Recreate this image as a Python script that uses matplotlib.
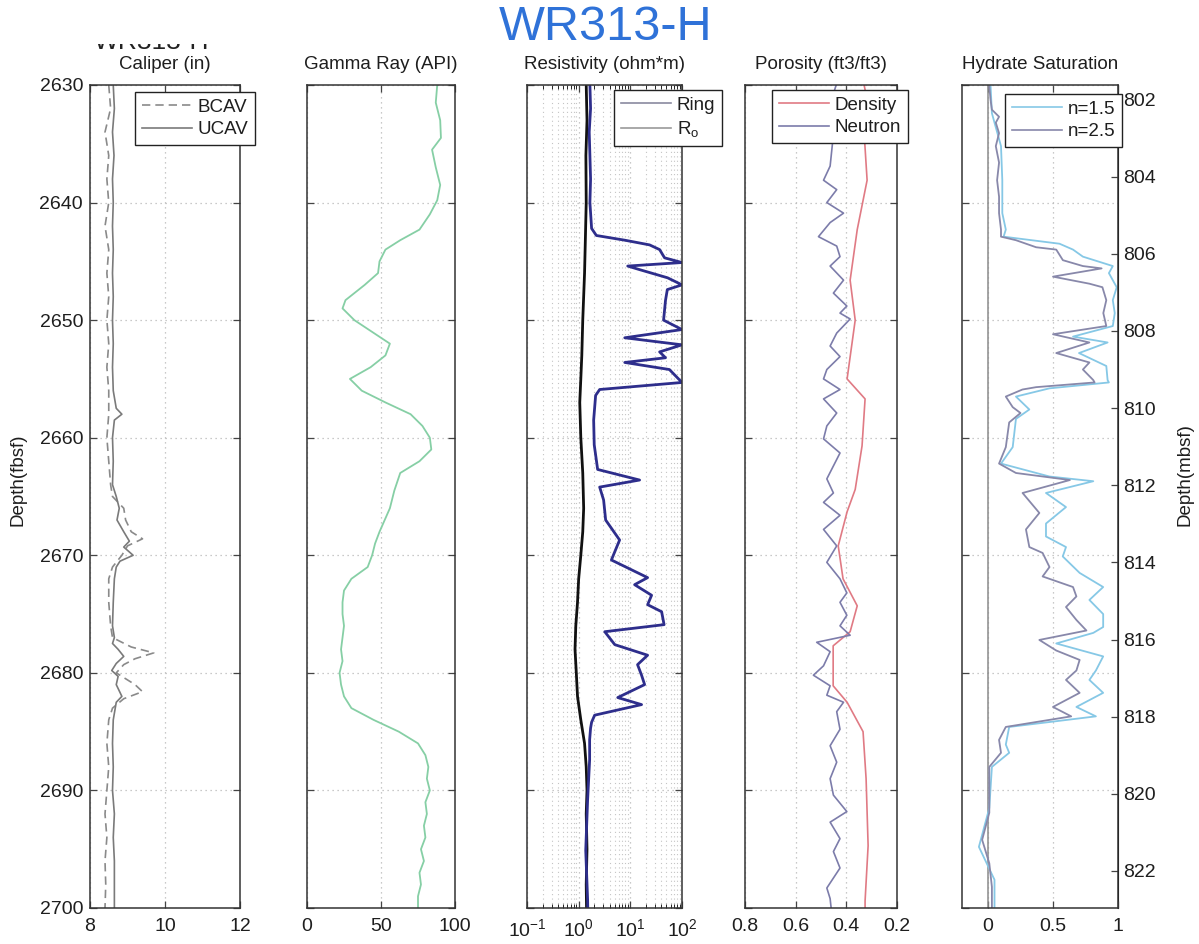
import numpy as np
import matplotlib
matplotlib.use("Agg")
import matplotlib.pyplot as plt
from matplotlib.lines import Line2D
from matplotlib.patches import Rectangle
from matplotlib.ticker import FixedLocator, LogLocator, NullFormatter

# ---------------- data (depth in ft below sea floor) ----------------
cal_u_depth = [2630, 2632, 2634, 2636, 2638, 2640, 2642, 2644, 2646, 2648, 2650, 2652, 2654, 2656, 2657.5, 2658,
               2658.5, 2660, 2662, 2664, 2665, 2666, 2667, 2668, 2668.8, 2669.3, 2670, 2670.5, 2671, 2672, 2674,
               2676, 2677, 2677.5, 2678, 2678.6, 2679.2, 2679.8, 2680.3, 2681, 2682, 2682.5, 2684, 2686, 2688,
               2690, 2692, 2694, 2696, 2698, 2700]
cal_u = [8.62, 8.65, 8.6, 8.64, 8.6, 8.62, 8.6, 8.62, 8.6, 8.62, 8.6, 8.62, 8.6, 8.62, 8.7, 8.85,
         8.65, 8.6, 8.62, 8.6, 8.7, 8.78, 8.72, 8.9, 9.05, 8.9, 9.15, 8.8, 8.7, 8.65, 8.62,
         8.6, 8.65, 8.6, 8.75, 8.9, 8.7, 8.58, 8.75, 8.7, 8.85, 8.7, 8.62, 8.6, 8.62,
         8.6, 8.65, 8.62, 8.65, 8.65, 8.65]
cal_b_depth = [2630, 2632, 2634, 2636, 2638, 2640, 2642, 2644, 2646, 2648, 2650, 2652, 2654, 2656, 2658, 2660,
               2662, 2664, 2665, 2666, 2667, 2668, 2668.6, 2669.2, 2670, 2671, 2672, 2674, 2676, 2677, 2677.8,
               2678.3, 2678.8, 2679.3, 2680, 2681, 2681.6, 2682.2, 2683, 2684, 2686, 2688, 2690, 2692, 2694,
               2696, 2698, 2700]
cal_b = [8.5, 8.55, 8.4, 8.5, 8.45, 8.5, 8.4, 8.5, 8.45, 8.5, 8.45, 8.5, 8.45, 8.5, 8.5, 8.45,
         8.5, 8.55, 8.6, 8.9, 8.95, 9.1, 9.4, 9.0, 8.85, 8.6, 8.5, 8.5, 8.55, 8.6, 9.1,
         9.7, 9.2, 8.9, 8.7, 9.2, 9.4, 8.9, 8.6, 8.5, 8.45, 8.5, 8.45, 8.4, 8.45,
         8.4, 8.42, 8.4]

gr_depth = [2630, 2631.5, 2633, 2634.5, 2635.5, 2637, 2638.5, 2639.8, 2641, 2642.3, 2643.2, 2644, 2645, 2646,
            2647, 2648.3, 2649, 2650, 2651, 2652, 2653, 2654, 2655, 2656, 2657, 2658, 2659, 2660, 2661, 2662,
            2663, 2664.5, 2666, 2668, 2669, 2670, 2671, 2672, 2673, 2674, 2675, 2676, 2677, 2678, 2679, 2680,
            2681, 2682, 2683, 2684, 2685, 2686, 2687, 2688, 2689, 2690, 2691, 2692, 2693, 2694, 2695, 2696,
            2697, 2698, 2699, 2700]
gr = [88, 87, 90, 90.5, 84.5, 87, 90, 88, 83, 76, 63, 53, 49, 48,
      39, 26, 24, 32, 44, 56, 53, 43, 29, 37, 53, 70, 78, 83, 84, 76,
      63, 59, 56, 49, 46, 44, 41, 30, 25, 24, 24, 25, 24, 23, 24, 22,
      23, 25, 30, 45, 62, 75, 80, 82, 81, 83, 80, 81, 79, 80, 77, 79,
      76, 77, 75, 75]

ring_depth = [2630, 2632, 2634, 2636, 2638, 2640, 2642.2, 2642.8, 2643.2, 2643.6, 2644.0, 2644.7, 2645.1, 2645.4,
              2645.7, 2646.4, 2647.0, 2647.4, 2648.3, 2650.0, 2650.8, 2651.5, 2652.1, 2652.7, 2653.2, 2653.6,
              2654.2, 2655.3, 2655.9, 2656.4, 2658.5, 2660.6, 2662.7, 2663.6, 2664.2, 2665.3, 2667.0, 2668.7,
              2670.4, 2671.9, 2672.5, 2673.4, 2674.2, 2674.8, 2675.9, 2676.5, 2677.6, 2678.5, 2679.3, 2680.2,
              2681.0, 2682.1, 2682.7, 2683.6, 2684.2, 2684.7, 2685.7, 2687.4, 2690.8, 2695.1, 2699.3, 2700]
ring = [1.65, 1.7, 1.6, 1.65, 1.7, 1.65, 1.78, 2.2, 7.8, 23.6, 36.9, 46, 100, 8.9,
        15, 52.7, 100, 52, 48, 44, 100, 7.8, 100, 36.9, 48, 7.8,
        57, 100, 2.55, 2.13, 1.95, 2.0, 2.33, 15.1, 2.55, 3.04, 3.33, 6.2,
        4.3, 21.6, 12.1, 25.8, 21.6, 40.3, 45, 3.2, 5.0, 21.6, 13.8, 16.5,
        18.9, 5.7, 16.5, 2.04, 1.78, 1.7, 1.63, 1.63, 1.49, 1.37, 1.49, 1.5]

ro_depth = [2630, 2633, 2636, 2640, 2643, 2646, 2650, 2653, 2655, 2657, 2660, 2663, 2666, 2668, 2670, 2672,
            2674, 2676, 2678, 2680, 2682, 2684, 2686, 2688, 2690, 2692, 2695, 2698, 2700]
ro = [1.4, 1.45, 1.38, 1.4, 1.35, 1.3, 1.2, 1.15, 1.1, 1.05, 1.1, 1.2, 1.25, 1.2, 1.1, 1.0,
      0.95, 0.88, 0.85, 0.9, 0.95, 1.1, 1.3, 1.4, 1.45, 1.4, 1.45, 1.4, 1.42]

den_depth = [2630, 2630.4, 2634, 2638.1, 2642.3, 2646.6, 2650, 2655, 2656.7, 2660.7, 2664.4, 2666.3, 2669.2,
             2672, 2674.3, 2676.5, 2677.7, 2681.1, 2682.5, 2685, 2689, 2694.7, 2699.4, 2700]
den = [0.33, 0.326, 0.33, 0.318, 0.357, 0.385, 0.365, 0.397, 0.326, 0.338, 0.365, 0.397, 0.432,
       0.413, 0.357, 0.385, 0.452, 0.452, 0.397, 0.334, 0.322, 0.314, 0.326, 0.326]

neu_depth = [2630, 2632, 2634, 2636.9, 2638.1, 2638.9, 2640.0, 2640.9, 2641.7, 2642.9, 2643.7, 2644.6, 2645.4,
             2646.6, 2647.7, 2648.8, 2649.4, 2649.9, 2651.1, 2652.2, 2653.1, 2654.2, 2655.0, 2655.9, 2656.7,
             2657.9, 2659.0, 2660.1, 2661.3, 2662.4, 2663.5, 2664.7, 2665.5, 2666.6, 2667.8, 2669.2, 2670.6,
             2672.0, 2673.2, 2674.0, 2675.1, 2676.0, 2676.8, 2677.4, 2678.2, 2679.4, 2680.2, 2681.1, 2681.9,
             2682.5, 2683.3, 2684.8, 2686.2, 2687.6, 2689.0, 2690.4, 2691.8, 2692.7, 2694.1, 2695.2, 2696.6,
             2698.3, 2699.2, 2700]
neu = [0.44, 0.47, 0.45, 0.464, 0.490, 0.438, 0.477, 0.411, 0.464, 0.510, 0.438, 0.425, 0.464,
       0.411, 0.451, 0.398, 0.425, 0.385, 0.438, 0.464, 0.425, 0.477, 0.490, 0.425, 0.490,
       0.438, 0.477, 0.490, 0.425, 0.451, 0.477, 0.451, 0.490, 0.425, 0.490, 0.438, 0.477,
       0.425, 0.398, 0.425, 0.398, 0.425, 0.385, 0.517, 0.464, 0.490, 0.530, 0.464, 0.477,
       0.411, 0.438, 0.425, 0.464, 0.438, 0.464, 0.451, 0.398, 0.464, 0.425, 0.451, 0.425,
       0.477, 0.464, 0.46]

sh15_depth = [2630.1, 2632.4, 2635.2, 2638.1, 2640.9, 2642.3, 2642.9, 2643.5, 2644.0, 2644.6, 2645.4, 2646.0,
              2647.2, 2648.3, 2649.4, 2650.5, 2651.4, 2651.9, 2652.8, 2653.9, 2655.1, 2655.3, 2655.8, 2656.5,
              2657.6, 2658.4, 2660.8, 2662.2, 2663.3, 2663.7, 2664.7, 2665.9, 2667.3, 2668.4, 2669.3, 2670.1,
              2671.5, 2672.7, 2673.8, 2675.0, 2676.1, 2676.6, 2677.5, 2678.6, 2679.8, 2680.6, 2681.7, 2682.9,
              2683.7, 2684.6, 2686.1, 2686.8, 2688.0, 2691.5, 2694.8, 2697.6, 2699.0, 2700]
sh15 = [0.02, 0.03, 0.10, 0.11, 0.11, 0.137, 0.12, 0.55, 0.654, 0.73, 0.96, 0.93,
        0.99, 0.96, 0.975, 0.96, 0.654, 0.92, 0.70, 0.91, 0.92, 0.93, 0.473, 0.215,
        0.318, 0.215, 0.19, 0.10, 0.473, 0.81, 0.446, 0.60, 0.446, 0.446, 0.60, 0.575,
        0.705, 0.886, 0.78, 0.886, 0.886, 0.81, 0.525, 0.886, 0.83, 0.78, 0.886, 0.68,
        0.83, 0.163, 0.137, 0.163, 0.03, 0.01, -0.07, 0.05, 0.05, 0.05]

sh25_depth = [2630.1, 2631.3, 2632.1, 2632.7, 2633.2, 2634.1, 2635.2, 2636.6, 2638.1, 2639.5, 2640.9, 2642.3,
              2642.9, 2643.2, 2643.8, 2644.0, 2644.9, 2645.4, 2645.6, 2646.3, 2646.9, 2647.2, 2648.3, 2649.4,
              2650.5, 2651.2, 2651.9, 2652.8, 2653.6, 2654.2, 2655.1, 2655.3, 2655.7, 2655.9, 2656.5, 2657.4,
              2657.9, 2658.7, 2660.8, 2662.2, 2663.0, 2663.6, 2664.7, 2666.4, 2667.8, 2669.3, 2669.8, 2671.0,
              2671.8, 2672.7, 2673.5, 2674.4, 2675.5, 2676.4, 2677.2, 2678.1, 2678.9, 2679.8, 2680.6, 2681.7,
              2682.9, 2683.7, 2684.6, 2685.7, 2686.8, 2688.0, 2689.7, 2691.9, 2694.2, 2696.2, 2698.2, 2699.6,
              2700]
sh25 = [0.01, 0.02, 0.03, 0.085, 0.06, 0.085, 0.06, 0.085, 0.07, 0.085, 0.085, 0.10,
        0.10, 0.215, 0.37, 0.525, 0.576, 0.73, 0.874, 0.50, 0.78, 0.88, 0.91, 0.887,
        0.91, 0.50, 0.78, 0.525, 0.78, 0.73, 0.81, 0.82, 0.37, 0.265, 0.137, 0.19,
        0.25, 0.163, 0.137, 0.085, 0.215, 0.63, 0.266, 0.395, 0.292, 0.318, 0.42, 0.473,
        0.42, 0.654, 0.68, 0.60, 0.68, 0.757, 0.395, 0.525, 0.705, 0.68, 0.60, 0.705,
        0.50, 0.64, 0.137, 0.085, 0.10, 0.01, 0.01, 0.01, -0.045, 0.01, 0.03, 0.03,
        0.03]

depth_ticks_ft = [2630, 2640, 2650, 2660, 2670, 2680, 2690, 2700]
depth_ticks_m = [802, 804, 806, 808, 810, 812, 814, 816, 818, 820, 822]
panel_titles = ["Caliper (in)", "Gamma Ray (API)", "Resistivity (ohm*m)", "Porosity (ft3/ft3)", "Hydrate Saturation"]

# ---------------- style ----------------
FONT = ["Liberation Sans", "DejaVu Sans"]
plt.rcParams["font.family"] = FONT
plt.rcParams["mathtext.fontset"] = "custom"
plt.rcParams["mathtext.rm"] = "Liberation Sans"
plt.rcParams["mathtext.it"] = "Liberation Sans:italic"
TXT = "#1e1e1e"
FS = 14
GRID = dict(color="#b8b8b8", linestyle=(0, (1, 3)), linewidth=0.9)

W, H = 1199, 944
fig = plt.figure(figsize=(W / 100, H / 100), dpi=100)

top_px, bot_px = 85, 908
lefts = [90, 307, 527, 745, 962]
widths = [150, 148, 155, 152, 156]
axes = []
for L, Wd in zip(lefts, widths):
    ax = fig.add_axes([L / W, 1 - bot_px / H, Wd / W, (bot_px - top_px) / H])
    axes.append(ax)

for i, ax in enumerate(axes):
    ax.set_ylim(2700, 2630)
    ax.yaxis.set_major_locator(FixedLocator(depth_ticks_ft))
    ax.tick_params(direction="in", length=5, width=0.9, colors="#444444", labelcolor=TXT,
                   labelsize=FS, top=True, right=True, pad=5)
    ax.tick_params(axis="x", pad=7)
    for s in ax.spines.values():
        s.set_linewidth(1.1)
        s.set_color("#333333")
    ax.grid(True, which="major", **GRID)
    ax.set_axisbelow(True)
    if i > 0:
        ax.tick_params(labelleft=False)
    cx = (lefts[i] + widths[i] / 2) / W
    fig.text(cx, 1 - 69 / H, panel_titles[i], ha="center", va="baseline", fontsize=FS - 0.5, color=TXT)

def legend(ax, handles, labels, x, y):
    lg = ax.legend(handles, labels, loc="upper left", bbox_to_anchor=(x, y), borderaxespad=0,
                   fontsize=FS - 0.5, frameon=True, fancybox=False, framealpha=1,
                   edgecolor="#222222", handlelength=2.7, labelspacing=0.3, borderpad=0.35,
                   handletextpad=0.3, labelcolor=TXT)
    lg.get_frame().set_linewidth(1.0)
    lg.set_zorder(10)
    return lg

# Caliper
ax = axes[0]
ax.plot(cal_b, cal_b_depth, color="#8a8a8a", lw=1.2, ls=(0, (5, 3)))
ax.plot(cal_u, cal_u_depth, color="#7a7a7a", lw=1.2)
ax.set_xlim(8, 12)
ax.set_xticks([8, 10, 12])
ax.set_xticklabels(["8", "10", "12"])
legend(ax, [Line2D([], [], color="#8a8a8a", lw=1.2, ls=(0, (5, 3))), Line2D([], [], color="#7a7a7a", lw=1.2)],
       ["BCAV", "UCAV"], 0.30, 0.9915)
fig.text(18 / W, 1 - 480 / H, "Depth(fbsf)", rotation=90, ha="center", va="center", fontsize=FS - 0.5, color=TXT)

# Gamma ray
ax = axes[1]
ax.plot(gr, gr_depth, color="#86cfa5", lw=1.3)
ax.set_xlim(0, 100)
ax.set_xticks([0, 50, 100])

# Resistivity
ax = axes[2]
ax.set_xscale("log")
ax.set_xlim(0.1, 100)
ax.xaxis.set_major_locator(LogLocator(base=10, numticks=10))
ax.xaxis.set_minor_locator(LogLocator(base=10, subs=np.arange(2, 10), numticks=10))
ax.xaxis.set_minor_formatter(NullFormatter())
ax.tick_params(axis="x", which="minor", direction="in", length=3, top=True)
ax.grid(True, which="minor", axis="x", color="#c4c4c4", linestyle=(0, (1, 3)), linewidth=0.8)
ax.plot(ro, ro_depth, color="#111111", lw=2.0)
ax.plot(ring, ring_depth, color="#2e2e8c", lw=2.0)
legend(ax, [Line2D([], [], color="#8a8aa0", lw=1.2), Line2D([], [], color="#9a9a9a", lw=1.2)],
       ["Ring", r"R$_\mathregular{o}$"], 0.561, 0.994)

# Porosity
ax = axes[3]
ax.plot(den, den_depth, color="#e07a84", lw=1.2)
ax.plot(neu, neu_depth, color="#7c7caa", lw=1.2)
ax.set_xlim(0.8, 0.2)
ax.set_xticks([0.8, 0.6, 0.4, 0.2])
ax.set_xticklabels(["0.8", "0.6", "0.4", "0.2"])
legend(ax, [Line2D([], [], color="#e07a84", lw=1.2), Line2D([], [], color="#7c7caa", lw=1.2)],
       ["Density", "Neutron"], 0.178, 0.994)

# Hydrate saturation
ax = axes[4]
ax.axvline(0, color="#8c8c8c", lw=1.1, zorder=1.5)
ax.plot(sh15, sh15_depth, color="#86c8e6", lw=1.3)
ax.plot(sh25, sh25_depth, color="#8888aa", lw=1.3)
ax.set_xlim(-0.2, 1)
ax.set_xticks([0, 0.5, 1])
ax.set_xticklabels(["0", "0.5", "1"])
ax.tick_params(axis="y", right=False)
sec = ax.secondary_yaxis("right", functions=(lambda f: f * 0.3048, lambda m: m / 0.3048))
sec.set_yticks(depth_ticks_m)
sec.tick_params(direction="in", length=5, width=0.9, colors="#444444", labelcolor=TXT, labelsize=FS, pad=4)
fig.text(1185 / W, 1 - 475 / H, "Depth(mbsf)", rotation=90, ha="center", va="center", fontsize=FS - 0.5, color=TXT)

# partially hidden black title behind the blue one
fig.text(152 / W, 1 - 49 / H, "WR313-H", ha="center", va="baseline", fontsize=19, color="#222222", zorder=1)
fig.patches.append(Rectangle((0, 1 - 44 / H), 1, 44 / H, transform=fig.transFigure,
                             facecolor="white", edgecolor="none", zorder=2))
fig.text(606 / W, 1 - 27 / H, "WR313-H", ha="center", va="center", fontsize=35, color="#2f72d8", zorder=3)

legend(ax, [Line2D([], [], color="#86c8e6", lw=1.2), Line2D([], [], color="#8888aa", lw=1.2)],
       ["n=1.5", "n=2.5"], 0.276, 0.989)

fig.savefig("out.png", dpi=100)
